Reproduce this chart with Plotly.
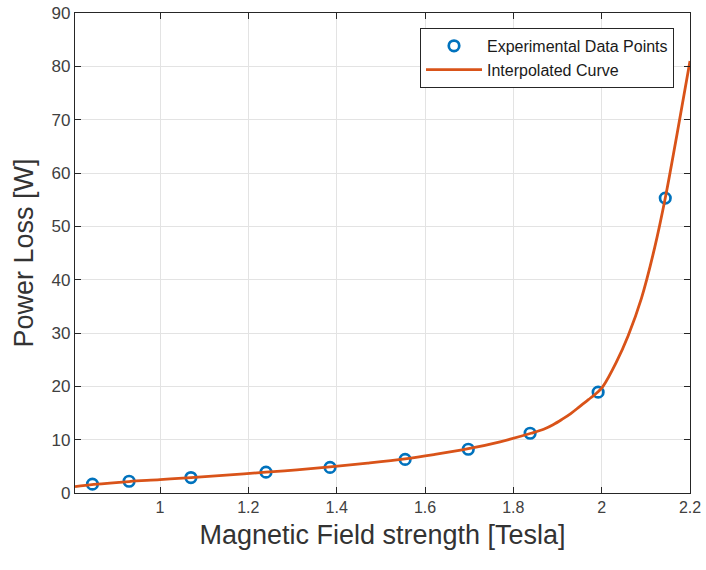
import plotly.graph_objects as go

data_x = [0.847, 0.93, 1.07, 1.24, 1.385, 1.555, 1.698, 1.838, 1.992, 2.144]
data_y = [1.65, 2.2, 2.9, 3.9, 4.8, 6.3, 8.2, 11.2, 18.9, 55.3]

# Interpolated curve
curve_x = [0.8075, 0.85, 0.93, 1.0, 1.07, 1.15, 1.24, 1.31, 1.385, 1.47, 1.555,
           1.62, 1.698, 1.77, 1.84, 1.87, 1.89, 1.91, 1.93, 1.95, 1.97, 1.992,
           2.003, 2.033, 2.06, 2.09, 2.12, 2.144, 2.17, 2.2]
curve_y = [1.2, 1.6, 2.15, 2.5, 2.9, 3.35, 3.9, 4.35, 4.9, 5.6, 6.4,
           7.2, 8.3, 9.6, 11.2, 12.0, 12.8, 13.8, 14.9, 16.2, 17.5, 19.0,
           20.0, 24.5, 29.5, 36.5, 46.0, 55.3, 67.0, 81.0]

x_ticks = [1, 1.2, 1.4, 1.6, 1.8, 2, 2.2]
x_ticklabels = ["1", "1.2", "1.4", "1.6", "1.8", "2", "2.2"]
y_ticks = [0, 10, 20, 30, 40, 50, 60, 70, 80, 90]

FONT = "Liberation Sans, Arial, Helvetica, sans-serif"
AXC = "#262626"
GRID = "#e3e3e3"

fig = go.Figure()
fig.add_trace(go.Scatter(
    x=data_x, y=data_y, mode="markers", name="Experimental Data Points",
    marker=dict(symbol="circle-open", size=10.5, color="#0072BD",
                line=dict(width=2.7, color="#0072BD")),
))
fig.add_trace(go.Scatter(
    x=curve_x, y=curve_y, mode="lines", name="Interpolated Curve",
    line=dict(color="#D95319", width=2.8, shape="spline", smoothing=1.0),
))

fig.update_layout(
    width=706, height=570,
    margin=dict(l=75, r=16, t=13, b=77, autoexpand=False),
    paper_bgcolor="white", plot_bgcolor="white",
    font=dict(family=FONT, color=AXC),
    showlegend=True,
    legend=dict(
        x=0.974, xanchor="right", y=0.969, yanchor="top",
        bgcolor="white", bordercolor=AXC, borderwidth=1,
        font=dict(size=16, family=FONT, color="#1a1a1a"),
        tracegroupgap=0, itemwidth=56,
    ),
    xaxis=dict(
        range=[0.8075, 2.2], tickvals=x_ticks, ticktext=x_ticklabels,
        ticks="inside", ticklen=6, tickcolor=AXC, tickwidth=1,
        showline=True, linecolor=AXC, linewidth=1.3, mirror="ticks",
        showgrid=True, gridcolor=GRID, gridwidth=1, zeroline=False,
        tickfont=dict(size=16, color="#404040"),
        title=dict(text="Magnetic Field strength [Tesla]",
                   font=dict(size=27, color="#333333"), standoff=9),
        automargin=False,
    ),
    yaxis=dict(
        range=[0, 90], tickvals=y_ticks,
        ticks="inside", ticklen=6, tickcolor=AXC, tickwidth=1,
        showline=True, linecolor=AXC, linewidth=1.3, mirror="ticks",
        showgrid=True, gridcolor=GRID, gridwidth=1, zeroline=False,
        tickfont=dict(size=17, color="#404040"),
        title=dict(text="Power Loss [W]",
                   font=dict(size=27, color="#333333"), standoff=10),
        automargin=False,
    ),
)

fig.write_html("out.html", config={"displayModeBar": False},
               post_script="document.body.style.margin='0px';document.body.style.padding='0px';")
